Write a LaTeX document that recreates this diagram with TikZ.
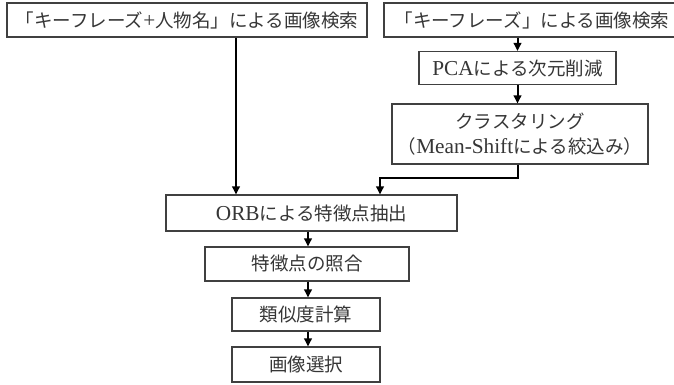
\documentclass[tikz,border=0pt]{standalone}
\usepackage{fontspec}
\setmainfont{Liberation Serif}[Scale=1.15]
\newfontfamily\jp{Noto Sans CJK JP}
\usetikzlibrary{arrows.meta}
\definecolor{boxc}{HTML}{404040}
\definecolor{txtc}{HTML}{363636}
\begin{document}
\begin{tikzpicture}[x=1pt,y=-1pt,
  box/.style={draw=boxc, line width=1.1pt, fill=white, inner sep=0pt, text=txtc,
    font=\fontsize{18.5}{25}\selectfont, align=center},
  arr/.style={draw=black, line width=2pt, -{Triangle[length=8pt,width=7.5pt]}}]
\clip (0,0) rectangle (674,385);
\useasboundingbox (0,0) rectangle (674,385);
\node[box, minimum width=360pt, minimum height=34pt] (A) at (187,20)
  {{\jp 「キーフレーズ}+{\jp 人物名」による画像検索}};
\node[box, minimum width=296pt, minimum height=34pt] (B) at (532,20)
  {{\jp 「キーフレーズ」による画像検索}};
\node[box, minimum width=197pt, minimum height=33pt] (P) at (517.5,68)
  {PCA{\jp による次元削減}};
\node[box, minimum width=256pt, minimum height=60pt] (C) at (520,134)
  {{\jp クラスタリング}\\{\jp （}Mean-Shift{\jp による絞込み）}};
\node[box, minimum width=291pt, minimum height=36pt] (O) at (311.5,213)
  {ORB{\jp による特徴点抽出}};
\node[box, minimum width=204pt, minimum height=34pt] (M) at (307,264)
  {{\jp 特徴点の照合}};
\node[box, minimum width=148pt, minimum height=33pt] (S) at (306,314.5)
  {{\jp 類似度計算}};
\node[box, minimum width=148pt, minimum height=35pt] (E) at (306,364.5)
  {{\jp 画像選択}};
\coordinate (xa) at (236,0);
\coordinate (xb) at (380,178);
\coordinate (xc) at (308,0);
\draw[arr] (A.south -| xa) -- (xa |- O.north);
\draw[arr] (P.north |- B.south) -- (P.north);
\draw[arr] (P.south) -- (P.south |- C.north);
\draw[arr] (P.south |- C.south) -- (P.south |- xb) -- (xb) -- (xb |- O.north);
\draw[arr] (xc |- O.south) -- (xc |- M.north);
\draw[arr] (xc |- M.south) -- (xc |- S.north);
\draw[arr] (xc |- S.south) -- (xc |- E.north);
\end{tikzpicture}
\end{document}
